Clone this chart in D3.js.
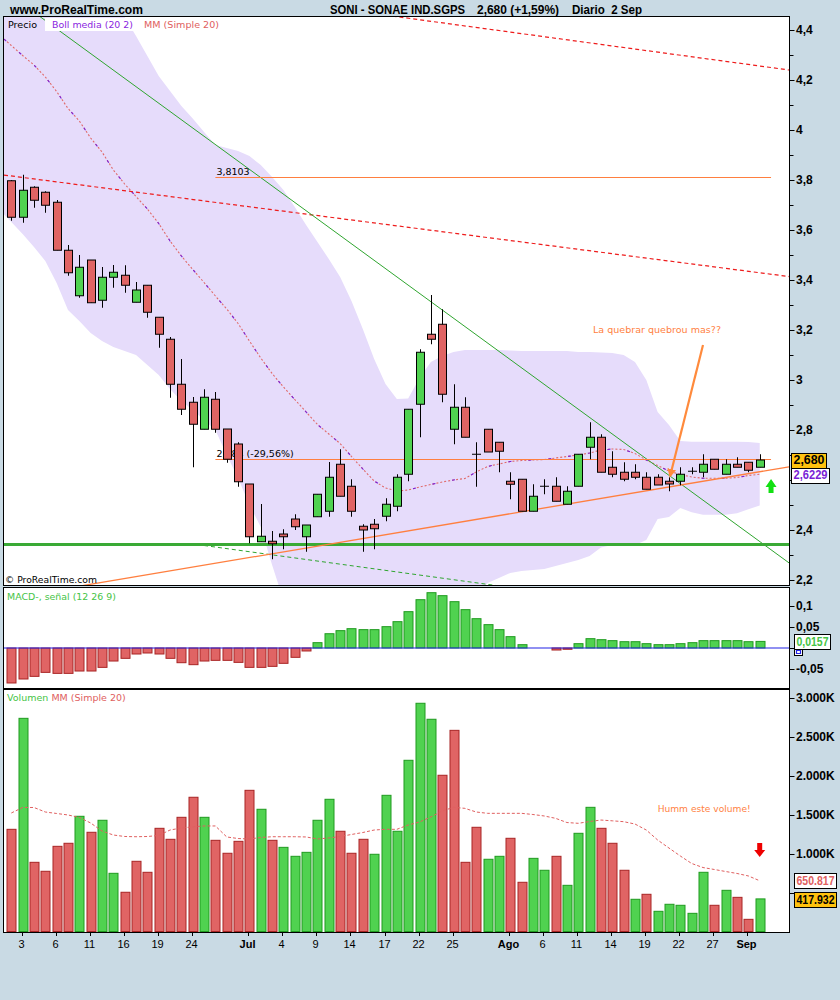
<!DOCTYPE html>
<html>
<head>
<meta charset="utf-8">
<script src="https://cdn.jsdelivr.net/npm/d3@7"></script>
<style>
  body { margin: 0; background: #c9dae4; }
  svg { display: block; font-family: "Liberation Sans", Arial, sans-serif; }
</style>
</head>
<body>
<svg id="chart" width="840" height="1000"></svg>
<script>
// ---------- data ----------
const dates = [
  "2008-06-02","2008-06-03","2008-06-04","2008-06-05","2008-06-06",
  "2008-06-09","2008-06-10","2008-06-11","2008-06-12","2008-06-13",
  "2008-06-16","2008-06-17","2008-06-18","2008-06-19","2008-06-20",
  "2008-06-23","2008-06-24","2008-06-25","2008-06-26","2008-06-27","2008-06-30",
  "2008-07-01","2008-07-02","2008-07-03","2008-07-04",
  "2008-07-07","2008-07-08","2008-07-09","2008-07-10","2008-07-11",
  "2008-07-14","2008-07-15","2008-07-16","2008-07-17","2008-07-18",
  "2008-07-21","2008-07-22","2008-07-23","2008-07-24","2008-07-25",
  "2008-07-28","2008-07-29","2008-07-30","2008-07-31",
  "2008-08-01",
  "2008-08-04","2008-08-05","2008-08-06","2008-08-07","2008-08-08",
  "2008-08-11","2008-08-12","2008-08-13","2008-08-14","2008-08-15",
  "2008-08-18","2008-08-19","2008-08-20","2008-08-21","2008-08-22",
  "2008-08-25","2008-08-26","2008-08-27","2008-08-28","2008-08-29",
  "2008-09-01","2008-09-02"
];
const tickDates = ["2008-06-03","2008-06-06","2008-06-11","2008-06-16","2008-06-19","2008-06-24",
  "2008-07-01","2008-07-04","2008-07-09","2008-07-14","2008-07-17","2008-07-22","2008-07-25",
  "2008-08-01","2008-08-06","2008-08-11","2008-08-14","2008-08-19","2008-08-22","2008-08-27","2008-09-01"];
const tickLabels = ["3","6","11","16","19","24","Jul","4","9","14","17","22","25",
  "Ago","6","11","14","19","22","27","Sep"];
const monthTicks = ["Jul","Ago","Sep"];

const open  = [3.797,3.651,3.771,3.751,3.711,3.519,3.337,3.480,3.319,3.411,3.419,3.311,3.379,3.251,3.163,2.983,2.911,2.803,2.923,2.804,
  2.744,2.584,2.353,2.355,2.384,2.444,2.373,2.453,2.475,2.663,2.575,2.415,2.423,2.455,2.495,2.623,2.903,3.183,3.223,2.803,
  2.891,2.703,2.803,2.751,2.595,2.603,2.475,2.575,2.575,2.503,2.575,2.731,2.771,2.651,2.631,2.631,2.611,2.611,2.595,2.595,
  2.635,2.631,2.683,2.623,2.663,2.671,2.651];
const high  = [3.800,3.821,3.775,3.755,3.720,3.540,3.500,3.480,3.452,3.460,3.459,3.392,3.379,3.251,3.172,3.084,2.932,2.963,2.952,2.804,
  2.751,2.584,2.504,2.396,2.403,2.463,2.415,2.543,2.672,2.723,2.603,2.423,2.444,2.527,2.623,2.883,3.123,3.340,3.283,2.983,
  2.931,2.751,2.803,2.751,2.631,2.603,2.583,2.603,2.611,2.575,2.703,2.831,2.783,2.715,2.671,2.663,2.631,2.623,2.611,2.651,
  2.651,2.703,2.683,2.683,2.691,2.671,2.703];
const low   = [3.637,3.629,3.689,3.669,3.519,3.417,3.329,3.309,3.289,3.369,3.349,3.311,3.249,3.129,2.929,2.860,2.651,2.803,2.789,2.669,
  2.573,2.347,2.353,2.283,2.323,2.400,2.313,2.453,2.453,2.535,2.453,2.313,2.323,2.435,2.475,2.595,2.771,3.143,2.911,2.743,
  2.771,2.573,2.712,2.631,2.523,2.475,2.475,2.543,2.515,2.503,2.575,2.683,2.631,2.611,2.595,2.603,2.563,2.580,2.555,2.579,
  2.623,2.611,2.643,2.623,2.651,2.631,2.651];
const close = [3.651,3.759,3.719,3.699,3.519,3.429,3.451,3.309,3.411,3.431,3.379,3.360,3.271,3.183,2.983,2.883,2.823,2.931,2.803,2.683,
  2.593,2.373,2.375,2.345,2.373,2.413,2.420,2.543,2.611,2.535,2.475,2.400,2.405,2.503,2.611,2.883,3.111,3.163,2.943,2.891,
  2.771,2.703,2.712,2.715,2.583,2.475,2.535,2.575,2.515,2.555,2.703,2.771,2.631,2.623,2.603,2.611,2.563,2.580,2.584,2.623,
  2.635,2.663,2.643,2.663,2.651,2.639,2.680];

// Bollinger (20, 2): middle = simple moving average 20
const bollMid = [4.338,4.298,4.260,4.212,4.154,4.086,4.036,3.968,3.912,3.840,3.784,3.734,3.684,3.626,3.556,3.496,3.442,3.390,3.336,3.284,
  3.226,3.156,3.088,3.026,2.972,2.922,2.872,2.822,2.784,2.746,2.694,2.644,2.596,2.568,2.556,2.560,2.572,2.582,2.592,2.600,
  2.606,2.632,2.654,2.664,2.674,2.678,2.680,2.682,2.688,2.694,2.700,2.708,2.720,2.724,2.722,2.706,2.680,2.658,2.636,2.622,
  2.612,2.607,2.607,2.607,2.610,2.618,2.6229];
const bollUpper = [5.040,5.012,4.988,4.948,4.920,4.892,4.836,4.748,4.668,4.548,4.452,4.376,4.296,4.216,4.156,4.096,4.046,3.992,3.940,3.928,
  3.916,3.896,3.860,3.812,3.760,3.692,3.620,3.552,3.484,3.412,3.316,3.204,3.084,2.984,2.924,2.926,3.008,3.072,3.096,3.112,
  3.120,3.120,3.120,3.120,3.118,3.116,3.116,3.116,3.116,3.116,3.112,3.112,3.110,3.108,3.100,3.072,3.000,2.872,2.820,2.756,
  2.753,2.753,2.753,2.753,2.753,2.752,2.748];
const bollLower = [3.632,3.584,3.532,3.476,3.388,3.280,3.236,3.188,3.156,3.132,3.116,3.100,3.060,3.020,2.964,2.916,2.880,2.840,2.800,2.700,
  2.608,2.500,2.412,2.260,2.120,2.100,2.080,2.070,2.060,2.060,2.060,2.070,2.090,2.110,2.130,2.120,2.100,2.090,2.090,2.090,
  2.100,2.144,2.188,2.208,2.228,2.236,2.240,2.244,2.256,2.268,2.280,2.296,2.330,2.340,2.344,2.340,2.360,2.444,2.452,2.488,
  2.471,2.461,2.461,2.461,2.467,2.483,2.498];

const macdHist = [-0.0833,-0.0738,-0.0675,-0.0580,-0.0604,-0.0604,-0.0548,-0.0548,-0.0461,-0.0310,-0.0246,-0.0143,-0.0119,-0.0143,-0.0246,
  -0.0350,-0.0397,-0.0310,-0.0294,-0.0294,-0.0342,-0.0461,-0.0461,-0.0437,-0.0365,-0.0222,-0.0071,0.0127,0.0340,0.0413,
  0.0460,0.0437,0.0437,0.0508,0.0627,0.0865,0.1150,0.1317,0.1246,0.1103,0.0913,0.0698,0.0556,0.0437,0.0270,
  0.0079,0,0,-0.0048,-0.0030,0.0103,0.0222,0.0198,0.0175,0.0150,0.0150,0.0103,0.0079,0.0079,0.0103,
  0.0127,0.0175,0.0175,0.0175,0.0175,0.0150,0.0157];

// volume in thousands of shares
const volume = [1310,2733,887,772,1092,1131,1477,1272,1426,746,503,900,759,1323,1182,1464,1721,1464,1169,1003,
  1156,1810,1567,1169,1079,964,1015,1426,1695,1285,1003,1182,990,1746,1285,2195,2926,2721,2003,2579,
  887,1336,926,964,1195,631,938,785,964,592,1259,1592,1323,1131,785,413,477,259,349,336,
  233,759,336,528,438,156,417.932];
const volumeMA = [1519,1590,1590,1532,1513,1494,1462,1391,1288,1237,1218,1215,1218,1231,1301,1327,1342,1353,1353,1212,
  1192,1186,1205,1215,1215,1215,1212,1186,1199,1218,1244,1269,1301,1310,1310,1365,1404,1468,1545,1592,
  1579,1532,1515,1515,1515,1515,1500,1481,1451,1397,1387,1410,1429,1419,1408,1378,1301,1173,1070,968,
  872,820,795,769,744,712,650.817];

// hand-drawn analysis lines: [session index, price] anchors
const resistanceLow  = [[0, 3.816], [66, 3.429]];
const resistanceHigh = [[36, 4.441], [66, 4.256]];
const downTrend      = [[3, 4.438], [66, 2.354]];
const lowChannel     = [[17, 2.338], [40, 2.195]];
const supportLevel   = 2.346;
const upTrend        = [[7, 2.183], [66, 2.633]];
const retraceTop     = {from: 18, to: 67, price: 3.8103, label: "3,8103"};
const retraceLow     = {from: 18, to: 67, price: 2.684, label: "2,684 (-29,56%)"};
const breakNote      = {text: "La quebrar quebrou mas??", at: [51.3, 3.188], arrow: [[61.0, 3.14], [58.1, 2.616]]};
const volumeNote     = {text: "Humm este volume!", at: [57.0, 1530]};
const upSignal       = [67.0, 2.576];
const downSignal     = [66.0, 1045];

const lastClose = 2.680, lastChange = "+1,59%";

// ---------- layout ----------
const svg = d3.select("#chart");
const P = {l: 4, r: 789, t: 17, b: 585};
const M = {t: 588, b: 688};
const V = {t: 690, b: 932};

const xi = d3.scaleLinear().domain([0, dates.length - 1]).range([11.3, 759.7]);
const xd = d => xi(dates.indexOf(d));
const y  = d3.scaleLinear().domain([2.2, 4.4]).range([580, 30]);
const ym = d3.scaleLinear().domain([-0.05, 0.1]).range([669, 606]);
const yv = d3.scaleLinear().domain([0, 3000]).range([931.5, 697.5]);
const leftI = xi.invert(P.l), rightI = xi.invert(P.r);

const loc = d3.formatLocale({decimal: ",", thousands: ".", grouping: [3], currency: ["", ""], minus: "-"});
const fPrice = loc.format(".2~f");
const fMacd = loc.format(".2~f");
const fVol = loc.format(",.0f");
const fThousands = v => loc.format(",.3f")(v).replace(",", ".");

const RED = "#e06464", RED_E = "#a82424", GRN = "#50d250", GRN_E = "#1f9a1f";
const LAV = "#e6dcfb";

// ---------- header ----------
function headText(x, w, s) {
  svg.append("text").attr("x", x).attr("y", 14).attr("font-weight", "bold").attr("font-size", 13)
    .attr("textLength", w).attr("lengthAdjust", "spacingAndGlyphs").attr("xml:space", "preserve").text(s);
}
headText(10, 133, "www.ProRealTime.com");
headText(330, 135, "SONI - SONAE IND.SGPS");
headText(477, 82, `${loc.format(".3f")(lastClose)} (${lastChange})`);
headText(572, 70, "Diario  2 Sep");

// ---------- panels ----------
const defs = svg.append("defs");
[["clipP", P.t, P.b], ["clipM", M.t, M.b], ["clipV", V.t, V.b]].forEach(([id, t, b]) => {
  defs.append("clipPath").attr("id", id).append("rect")
    .attr("x", P.l).attr("y", t).attr("width", P.r - P.l).attr("height", b - t);
});
[[P.t, P.b], [M.t, M.b], [V.t, V.b]].forEach(([t, b]) => {
  svg.append("rect").attr("x", P.l).attr("y", t).attr("width", P.r - P.l).attr("height", b - t).attr("fill", "#fff");
});

// ---------- price panel ----------
const gp = svg.append("g").attr("clip-path", "url(#clipP)");
const idx = d3.range(dates.length);
const extLeft = arr => arr[0] + (arr[1] - arr[0]) * leftI;

const bandPts = [{i: leftI, u: extLeft(bollUpper), l: extLeft(bollLower)}]
  .concat(idx.map(i => ({i, u: bollUpper[i], l: bollLower[i]})));
gp.append("path").datum(bandPts)
  .attr("fill", LAV)
  .attr("d", d3.area().x(d => xi(d.i)).y0(d => y(d.l)).y1(d => y(d.u)));

// legend background strip
svg.append("rect").attr("x", 45).attr("y", 18).attr("width", 177).attr("height", 13).attr("fill", "#fff");

const midPts = [[leftI, extLeft(bollMid)]].concat(idx.map(i => [i, bollMid[i]]));
const midLine = d3.line().x(d => xi(d[0])).y(d => y(d[1]));
gp.append("path").datum(midPts).attr("fill", "none").attr("stroke", "#e06a6a")
  .attr("stroke-width", 1.1).attr("stroke-dasharray", "2,2").attr("d", midLine);
gp.append("path").datum(midPts).attr("fill", "none").attr("stroke", "#7a1fd6")
  .attr("stroke-width", 1.1).attr("stroke-dasharray", "3,17").attr("d", midLine);

// analysis lines
function extended(anchors, mode) {
  const [[i0, p0], [i1, p1]] = anchors;
  const k = (p1 - p0) / (i1 - i0);
  const a = mode === "right" ? i0 : leftI;
  return [[a, p0 + k * (a - i0)], [rightI, p0 + k * (rightI - i0)]];
}
const seg = d3.line().x(d => xi(d[0])).y(d => y(d[1]));
function drawLine(pts, color, width, dash) {
  return gp.append("path").datum(pts).attr("fill", "none").attr("stroke", color)
    .attr("stroke-width", width).attr("stroke-dasharray", dash || null).attr("d", seg);
}
// horizontal level snapped to the pixel grid so it stays a solid 1px line
function drawLevel(i0, i1, price, color, width) {
  const yy = Math.round(y(price)) + (width % 2 ? 0.5 : 0);
  gp.append("line").attr("x1", xi(i0)).attr("x2", xi(i1)).attr("y1", yy).attr("y2", yy)
    .attr("stroke", color).attr("stroke-width", width);
}
drawLine(extended(resistanceLow), "#ee1c1c", 1.2, "4,3");
drawLine(extended(resistanceHigh), "#ee1c1c", 1.2, "4,3");
drawLine(extended(downTrend), "#2fa52f", 1, null);
drawLine(extended(lowChannel, "right"), "#2fa52f", 1, "4,3");
drawLevel(leftI, rightI, supportLevel, "#3aaa35", 3);
drawLine(extended(upTrend), "#ff7f3f", 1.3, null);
[retraceTop, retraceLow].forEach(r => {
  drawLevel(r.from, r.to, r.price, "#ff7f3f", 1);
  gp.append("text").attr("x", xi(r.from) + 1).attr("y", y(r.price) - 2)
    .attr("font-family", "DejaVu Sans").attr("font-size", 9.5).attr("fill", "#000").text(r.label);
});

// candles
const cg = gp.append("g");
idx.forEach(i => {
  const cx = Math.round(xi(i)) + 0.5;
  cg.append("line").attr("x1", cx).attr("x2", cx).attr("y1", y(high[i])).attr("y2", y(low[i]))
    .attr("stroke", "#000").attr("stroke-width", 1);
  if (open[i] === close[i]) {
    cg.append("line").attr("x1", cx - 4.5).attr("x2", cx + 4.5).attr("y1", y(open[i])).attr("y2", y(open[i]))
      .attr("stroke", "#000").attr("stroke-width", 1);
  } else {
    const top = y(Math.max(open[i], close[i])), bot = y(Math.min(open[i], close[i]));
    cg.append("rect").attr("x", cx - 4).attr("y", top).attr("width", 8).attr("height", Math.max(1, bot - top))
      .attr("fill", close[i] > open[i] ? GRN : RED).attr("stroke", "#000").attr("stroke-width", 1);
  }
});

// annotation arrow
defs.append("marker").attr("id", "arrowHead").attr("viewBox", "0 0 10 10").attr("refX", 8).attr("refY", 5)
  .attr("markerWidth", 4).attr("markerHeight", 4).attr("orient", "auto")
  .append("path").attr("d", "M0,0 L10,5 L0,10 z").attr("fill", "#ff8a3c");
gp.append("path").datum(breakNote.arrow).attr("fill", "none").attr("stroke", "#ff8a3c")
  .attr("stroke-width", 2.2).attr("marker-end", "url(#arrowHead)").attr("d", seg);
gp.append("text").attr("x", xi(breakNote.at[0])).attr("y", y(breakNote.at[1]))
  .attr("font-family", "DejaVu Sans").attr("font-size", 9.5).attr("fill", "#ff7f3f")
  .attr("textLength", 128).attr("lengthAdjust", "spacingAndGlyphs").text(breakNote.text);

// green signal arrow
{
  const ax = xi(upSignal[0]), ay = y(upSignal[1]);
  gp.append("path").attr("fill", "#12e012")
    .attr("d", `M${ax},${ay - 7} L${ax + 5.5},${ay + 1} L${ax + 2.5},${ay + 1} L${ax + 2.5},${ay + 7} L${ax - 2.5},${ay + 7} L${ax - 2.5},${ay + 1} L${ax - 5.5},${ay + 1} Z`);
}

// legend
function note(x, yy, w, s, color) {
  svg.append("text").attr("x", x).attr("y", yy).attr("font-family", "DejaVu Sans").attr("font-size", 9.5)
    .attr("textLength", w).attr("lengthAdjust", "spacingAndGlyphs").attr("fill", color).text(s);
}
note(8, 28, 29, "Precio", "#000");
note(52, 28, 81, "Boll media (20 2)", "#8a1ee0");
note(144, 28, 75, "MM (Simple 20)", "#e06060");
note(5, 583, 92, "© ProRealTime.com", "#000");

// ---------- MACD panel ----------
const gm = svg.append("g").attr("clip-path", "url(#clipM)");
idx.forEach(i => {
  const v = macdHist[i];
  if (v === 0) return;
  const cx = Math.round(xi(i)) + 0.5;
  const t = ym(Math.max(v, 0)), b = ym(Math.min(v, 0));
  gm.append("rect").attr("x", cx - 4.5).attr("y", t).attr("width", 9).attr("height", b - t)
    .attr("fill", v > 0 ? GRN : RED).attr("stroke", v > 0 ? GRN_E : RED_E).attr("stroke-width", 1);
});
gm.append("line").attr("x1", P.l).attr("x2", P.r).attr("y1", ym(0)).attr("y2", ym(0))
  .attr("stroke", "#2323e6").attr("stroke-width", 1.2);
note(7, 600, 109, "MACD-, señal (12 26 9)", "#45c445");

// ---------- volume panel ----------
const gv = svg.append("g").attr("clip-path", "url(#clipV)");
idx.forEach(i => {
  const cx = Math.round(xi(i)) + 0.5;
  const up = i === 0 ? close[0] >= open[0] : close[i] >= close[i - 1];
  gv.append("rect").attr("x", cx - 4.5).attr("y", yv(volume[i])).attr("width", 9)
    .attr("height", yv(0) - yv(volume[i]))
    .attr("fill", up ? GRN : RED).attr("stroke", up ? GRN_E : RED_E).attr("stroke-width", 1);
});
gv.append("path").datum(idx.map(i => [i, volumeMA[i]])).attr("fill", "none").attr("stroke", "#e06060")
  .attr("stroke-width", 1).attr("stroke-dasharray", "3,2")
  .attr("d", d3.line().x(d => xi(d[0])).y(d => yv(d[1])));
gv.append("text").attr("x", xi(volumeNote.at[0])).attr("y", yv(volumeNote.at[1]))
  .attr("font-family", "DejaVu Sans").attr("font-size", 9.5).attr("fill", "#ff7f3f")
  .attr("textLength", 93).attr("lengthAdjust", "spacingAndGlyphs").text(volumeNote.text);
{
  const ax = xi(downSignal[0]), ay = yv(downSignal[1]);
  gv.append("path").attr("fill", "#ee0000")
    .attr("d", `M${ax - 2.5},${ay - 7} L${ax + 2.5},${ay - 7} L${ax + 2.5},${ay} L${ax + 5.5},${ay} L${ax},${ay + 7} L${ax - 5.5},${ay} L${ax - 2.5},${ay} Z`);
}
const vl = svg.append("text").attr("x", 7).attr("y", 701).attr("font-family", "DejaVu Sans").attr("font-size", 9.5);
vl.append("tspan").attr("fill", "#45c445").text("Volumen ");
vl.append("tspan").attr("fill", "#e06060").text("MM (Simple 20)");

// ---------- panel borders ----------
[[P.t, P.b], [M.t, M.b], [V.t, V.b]].forEach(([t, b]) => {
  svg.append("rect").attr("x", P.l - 0.5).attr("y", t - 0.5).attr("width", P.r - P.l + 1).attr("height", b - t + 1)
    .attr("fill", "none").attr("stroke", "#000").attr("stroke-width", 1);
});

// ---------- right axes ----------
// labels whose slot is taken by a last-value box only get their tick mark
function rightAxis(scale, ticks, minor, fmt, covered) {
  const g = svg.append("g");
  minor.forEach(v => g.append("line").attr("x1", P.r + 0.5).attr("x2", P.r + 4.5)
    .attr("y1", Math.round(scale(v)) + 0.5).attr("y2", Math.round(scale(v)) + 0.5).attr("stroke", "#000"));
  ticks.forEach(v => {
    g.append("line").attr("x1", P.r + 0.5).attr("x2", P.r + 5.5)
      .attr("y1", Math.round(scale(v)) + 0.5).attr("y2", Math.round(scale(v)) + 0.5).attr("stroke", "#000");
    if (covered.includes(v)) return;
    g.append("text").attr("x", P.r + 7).attr("y", scale(v)).attr("dy", "0.36em")
      .attr("font-weight", "bold").attr("font-size", 12).text(fmt(v));
  });
}
rightAxis(y, d3.range(2.2, 4.41, 0.2).map(v => +v.toFixed(1)), d3.range(2.3, 4.4, 0.2).map(v => +v.toFixed(1)), fPrice, [2.6]);
rightAxis(ym, [-0.05, 0, 0.05, 0.1], [], fMacd, [0]);
rightAxis(yv, [500, 1000, 1500, 2000, 2500, 3000], [], v => fVol(v) + "K", [500]);

function valueBox(x, yc, w, text, fill, color) {
  svg.append("rect").attr("x", x + 0.5).attr("y", Math.round(yc - 7.5) + 0.5).attr("width", w).attr("height", 15)
    .attr("fill", fill).attr("stroke", "#000");
  svg.append("text").attr("x", x + 2.5).attr("y", yc).attr("dy", "0.36em").attr("font-weight", "bold")
    .attr("font-size", 12).attr("fill", color)
    .attr("textLength", w - 4).attr("lengthAdjust", "spacingAndGlyphs").text(text);
}
valueBox(791, y(lastClose), 35, loc.format(".3f")(lastClose), "#ffc20e", "#000");
valueBox(791, y(lastClose) + 15, 38, loc.format(".4f")(bollMid[bollMid.length - 1]), "#fff", "#7a1fd6");
// zero-line marker peeking below the MACD value box
svg.append("rect").attr("x", 794.5).attr("y", 648.5).attr("width", 8).attr("height", 7).attr("fill", "#fff").attr("stroke", "#000");
svg.append("path").attr("d", "M796.5,650.5 h4 v3 h-4 z").attr("fill", "none").attr("stroke", "#2323e6").attr("stroke-width", 1.2);
valueBox(794, ym(macdHist[macdHist.length - 1]), 36, loc.format(".4f")(macdHist[macdHist.length - 1]), "#fff", "#45c445");
valueBox(794, yv(volumeMA[volumeMA.length - 1]), 42, fThousands(volumeMA[volumeMA.length - 1]), "#fff", "#e06060");
valueBox(794, yv(volume[volume.length - 1]) + 1, 42, fThousands(volume[volume.length - 1]), "#ffc20e", "#000");

// ---------- time axis ----------
const ta = svg.append("g");
tickDates.forEach((d, k) => {
  const tx = Math.round(xd(d)) - 0.5;
  ta.append("line").attr("x1", tx).attr("x2", tx).attr("y1", V.b).attr("y2", V.b + 4).attr("stroke", "#000");
  ta.append("text").attr("x", tx - 1).attr("y", 948).attr("text-anchor", "middle")
    .attr("font-family", "'Liberation Sans Narrow', 'Liberation Sans', Arial").attr("font-stretch", "condensed")
    .attr("font-size", 11).attr("font-weight", monthTicks.includes(tickLabels[k]) ? "bold" : "normal")
    .text(tickLabels[k]);
});
</script>
</body>
</html>
